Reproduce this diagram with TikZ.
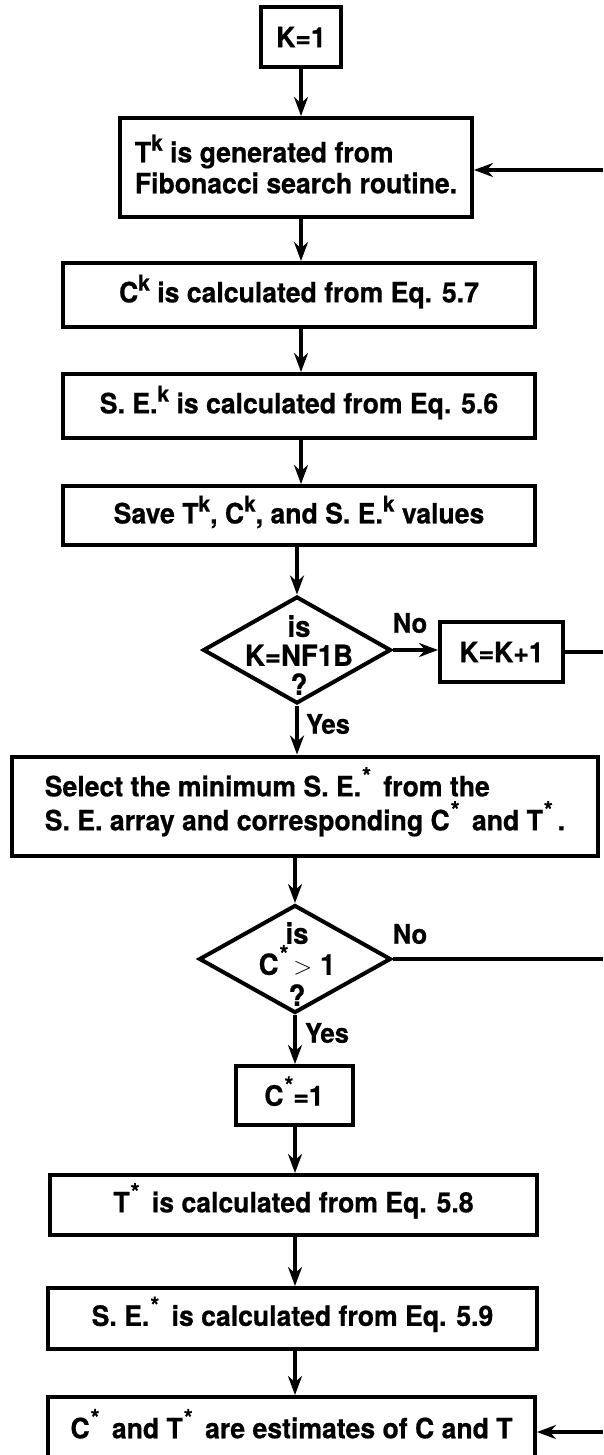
\documentclass[tikz,border=0pt]{standalone}
\usepackage{fontspec}
\setmainfont{TeX Gyre Heros}[BoldFeatures={FakeBold=0.6,FakeStretch=0.95}]
\usetikzlibrary{shapes.geometric,arrows.meta}
\newcommand\supk{\smash{\raisebox{0.42em}{\fontsize{22}{22}\selectfont k}}}
\newcommand\supst{\kern1pt\smash{\raisebox{0.42em}{\fontsize{24}{24}\selectfont *}}\kern5pt}
\newcommand\supsttight{\kern1pt\smash{\raisebox{0.42em}{\fontsize{24}{24}\selectfont *}}}
\begin{document}
\begin{tikzpicture}[x=1pt,y=-1pt,
  font=\fontsize{28}{31}\selectfont\bfseries,
  box/.style={draw, line width=4pt, inner sep=0pt, align=center},
  dia/.style={draw, diamond, line width=4pt, inner sep=0pt},
  flow/.style={line width=4pt, -{Stealth[length=19pt,width=14pt]}},
  plain/.style={line width=4pt},
  lbl/.style={font=\fontsize{27}{28}\selectfont\bfseries, inner sep=0pt}]
\useasboundingbox (0,0) rectangle (603,1455);
\clip (0,0) rectangle (603,1455);
% nodes
\node[box, minimum width=80, minimum height=60] (k1) at (301,37) {K=1};
\node[box, minimum width=352, minimum height=99, align=left] (tk) at (296,167.5)
  {T\supk{} is generated from\\Fibonacci search routine.};
\node[box, minimum width=472, minimum height=64] (ck) at (299,295)
  {C\supk{} is calculated from Eq. 5.7};
\node[box, minimum width=472, minimum height=64] (sek) at (299,406)
  {S. E.\supk{} is calculated from Eq. 5.6};
\node[box, minimum width=472, minimum height=59] (save) at (299,515.5)
  {Save T\supk, C\supk, and S. E.\supk{} values};
\node[dia, minimum width=188, minimum height=107] (d1) at (297,650) {};
\node[inner sep=0pt, align=center, font=\fontsize{29}{29}\selectfont\bfseries] (d1t) at (299,655) {is\\K=NF1B\\?};
\node[box, minimum width=123, minimum height=60] (kk) at (501.5,652) {K=K+1};
\node[box, minimum width=586, minimum height=99, align=left, font=\fontsize{28}{34}\selectfont\bfseries] (sel) at (305,806)
  {Select the minimum S. E.\supst{} from the\\S. E. array and corresponding C\supst{} and T\supst{}.};
\node[dia, minimum width=192, minimum height=108] (d2) at (295,959) {};
\node[inner sep=0pt, align=center, font=\fontsize{29}{31}\selectfont\bfseries] (d2t) at (297,964) {is\\C\supst{}{\fontsize{34}{31}\selectfont$>$} 1\\?};
\node[box, minimum width=117, minimum height=59] (c1) at (294,1095.5) {C\supsttight{}=1};
\node[box, minimum width=487, minimum height=60] (ts) at (293.5,1205)
  {T\supst{} is calculated from Eq. 5.8};
\node[box, minimum width=489, minimum height=61] (ses) at (292.5,1318.5)
  {S. E.\supst{} is calculated from Eq. 5.9};
\node[box, minimum width=487, minimum height=62] (fin) at (291.5,1428)
  {C\supst{} and T\supst{} are estimates of C and T};
% labels
\node[lbl] (no1) at (410,623) {No};
\node[lbl] (yes1) at (328,724) {Yes};
\node[lbl] (no2) at (410,934) {No};
\node[lbl] (yes2) at (327,1033) {Yes};
% edge coordinates
\coordinate (r1) at (603,170);
\coordinate (r2) at (603,652);
\coordinate (r3) at (603,959);
\coordinate (r4) at (603,1432);
% connectors
\draw[flow] (k1.south) -- (tk.north -| k1.south);
\draw[flow] (tk.south -| k1.south) -- (ck.north -| k1.south);
\draw[flow] (ck.south -| k1.south) -- (sek.north -| k1.south);
\draw[flow] (sek.south -| k1.south) -- (save.north -| k1.south);
\draw[flow] (save.south -| d1.north) -- (d1.north);
\draw[flow] (d1.east) -- (d1.east -| kk.west);
\draw[plain] (kk.east |- r2) -- (r2);
\draw[flow] (r1) -- (r1 -| tk.east);
\draw[flow] (d1.south) -- (sel.north -| d1.south);
\draw[flow] (sel.south -| d2.north) -- (d2.north);
\draw[plain] (d2.east) -- (r3);
\draw[flow] (d2.south) -- (c1.north -| d2.south);
\draw[flow] (c1.south -| d2.south) -- (ts.north -| d2.south);
\draw[flow] (ts.south -| d2.south) -- (ses.north -| d2.south);
\draw[flow] (ses.south -| d2.south) -- (fin.north -| d2.south);
\draw[flow] (r4) -- (r4 -| fin.east);
\end{tikzpicture}
\end{document}
